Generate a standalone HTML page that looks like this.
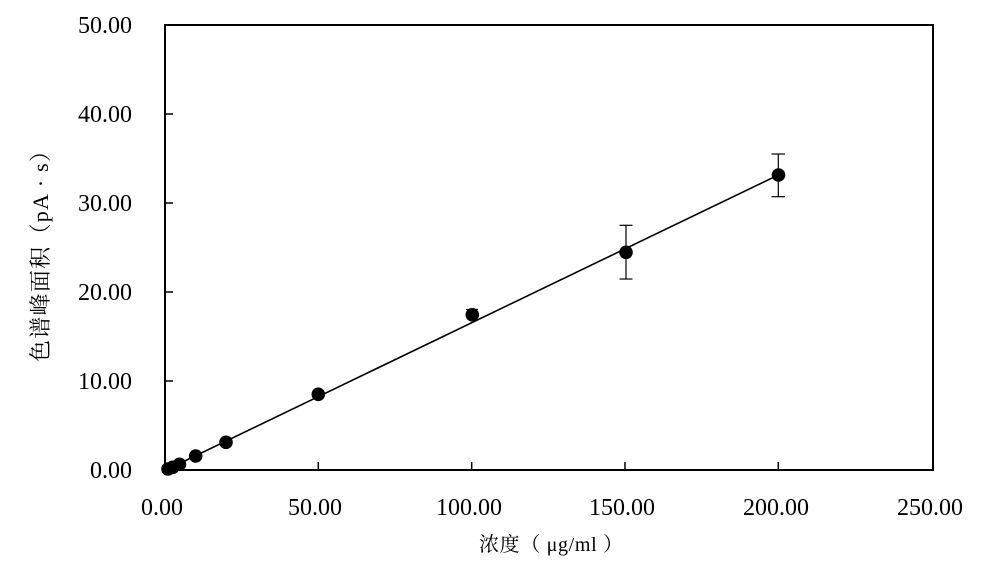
<!DOCTYPE html>
<html>
<head>
<meta charset="utf-8">
<style>
html,body{margin:0;padding:0;background:#fff;}
svg{display:block;}
</style>
</head>
<body>
<svg width="987" height="578" viewBox="0 0 987 578" xmlns="http://www.w3.org/2000/svg">
<rect width="987" height="578" fill="#fff"/>
<!-- plot frame -->
<rect x="165" y="25" width="768" height="445" fill="none" stroke="#000" stroke-width="2"/>
<!-- y ticks (inside) -->
<g stroke="#000" stroke-width="1.5">
<line x1="165" y1="381" x2="173" y2="381"/>
<line x1="165" y1="292" x2="173" y2="292"/>
<line x1="165" y1="203" x2="173" y2="203"/>
<line x1="165" y1="114" x2="173" y2="114"/>
<!-- x ticks (inside) -->
<line x1="318.3" y1="470" x2="318.3" y2="462"/>
<line x1="471.7" y1="470" x2="471.7" y2="462"/>
<line x1="625" y1="470" x2="625" y2="462"/>
<line x1="778.3" y1="470" x2="778.3" y2="462"/>
</g>
<!-- y tick labels -->
<g font-family="'Liberation Serif', serif" font-size="24" fill="#000" text-anchor="end">
<text x="132" y="478">0.00</text>
<text x="132" y="389">10.00</text>
<text x="132" y="300">20.00</text>
<text x="132" y="211">30.00</text>
<text x="132" y="122">40.00</text>
<text x="132" y="33">50.00</text>
</g>
<!-- x tick labels -->
<g font-family="'Liberation Serif', serif" font-size="24" fill="#000" text-anchor="middle">
<text x="162" y="515">0.00</text>
<text x="315" y="515">50.00</text>
<text x="469" y="515">100.00</text>
<text x="622" y="515">150.00</text>
<text x="776" y="515">200.00</text>
<text x="930" y="515">250.00</text>
</g>
<!-- axis titles -->
<text x="551" y="551" font-family="'Liberation Serif','Noto Serif CJK SC',serif" font-size="20" text-anchor="middle" textLength="144" lengthAdjust="spacing" fill="#000">浓度（ μg/ml ）</text>
<text transform="translate(48,251) rotate(-90)" font-family="'Liberation Serif','Noto Serif CJK SC',serif" font-size="22" text-anchor="middle" textLength="222" lengthAdjust="spacing" fill="#000">色谱峰面积（pA · s）</text>
<!-- fit line -->
<line x1="165" y1="470.5" x2="778.3" y2="175" stroke="#000" stroke-width="1.6"/>
<!-- error bars -->
<g stroke="#000" stroke-width="1.2">
<line x1="778.3" y1="154" x2="778.3" y2="196.7"/>
<line x1="771.5" y1="154" x2="785" y2="154"/>
<line x1="771.5" y1="196.7" x2="785" y2="196.7"/>
<line x1="626" y1="225.3" x2="626" y2="279"/>
<line x1="619.5" y1="225.3" x2="632.5" y2="225.3"/>
<line x1="619.5" y1="279" x2="632.5" y2="279"/>
<line x1="472" y1="309.5" x2="472" y2="319"/>
<line x1="466" y1="309.5" x2="478" y2="309.5"/>
</g>
<!-- points -->
<g fill="#000">
<circle cx="778.5" cy="175" r="6.8"/>
<circle cx="626" cy="252.3" r="6.8"/>
<circle cx="472.3" cy="314.8" r="6.8"/>
<circle cx="318.3" cy="394.3" r="6.8"/>
<circle cx="226" cy="442.3" r="6.8"/>
<circle cx="195.7" cy="456" r="6.8"/>
<circle cx="179.5" cy="464.3" r="6.8"/>
<circle cx="172.7" cy="467.3" r="6.8"/>
<circle cx="168" cy="469" r="6.8"/>
</g>
</svg>
</body>
</html>
